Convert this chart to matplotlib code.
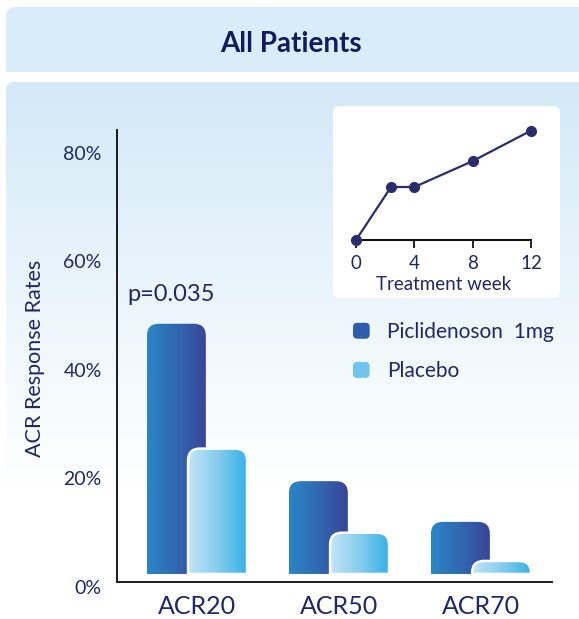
import numpy as np
import matplotlib
matplotlib.use('Agg')
import matplotlib.pyplot as plt
from matplotlib.path import Path
from matplotlib.patches import PathPatch, FancyBboxPatch, Patch
from matplotlib.colors import LinearSegmentedColormap
from matplotlib.legend_handler import HandlerPatch
from matplotlib.ticker import FuncFormatter

# ---------------- data ----------------
categories = ['ACR20', 'ACR50', 'ACR70']
piclidenoson = [48.5, 19.5, 12.0]
placebo = [25.5, 10.0, 4.8]
y_ticks = [0, 20, 40, 60, 80]
weeks = [0, 2.4, 4, 8, 12]
inset_acr20 = [0, 23.5, 23.5, 35, 48.5]
inset_ticks = [0, 4, 8, 12]
series_labels = ['Piclidenoson  1mg', 'Placebo']
title_text = 'All Patients'
p_text = 'p=0.035'

# ---------------- style ----------------
plt.rcParams['font.family'] = ['Lato', 'DejaVu Sans']
NAVY = '#1f2768'
W, H, DPI = 579, 619, 100
fig = plt.figure(figsize=(W / DPI, H / DPI), dpi=DPI)


def px_rect(l, t, r, b):
    return [l / W, 1 - b / H, (r - l) / W, (b - t) / H]


def top_left_round(l, t, r, b, rad):
    # pixel coords (y downwards); only the top-left corner is rounded
    verts = [(l, b), (l, t + rad), (l, t), (l + rad, t), (r, t), (r, b), (l, b)]
    codes = [Path.MOVETO, Path.LINETO, Path.CURVE3, Path.CURVE3, Path.LINETO,
             Path.LINETO, Path.CLOSEPOLY]
    return Path(verts, codes)


# background (pixel coordinates)
bg = fig.add_axes([0, 0, 1, 1], zorder=0)
bg.axis('off')

bg.add_patch(PathPatch(top_left_round(6, 7, W + 2, 72, 10), facecolor='#d8edf9',
                       edgecolor='none'))
bg.text(291, 44, title_text, ha='center', va='center', fontsize=20,
        fontweight='bold', color='#15195f')

panel = PathPatch(top_left_round(6, 82, W + 2, H + 2, 8), facecolor='none',
                  edgecolor='none')
bg.add_patch(panel)
panel_cmap = LinearSegmentedColormap.from_list(
    'panel', [(0, '#d3e9f7'), (0.45, '#eef7fc'), (0.75, '#ffffff'), (1, '#ffffff')])
grad = np.linspace(0, 1, 256).reshape(-1, 1)
im = bg.imshow(grad, cmap=panel_cmap, extent=(6, W + 2, H + 2, 82), aspect='auto',
               interpolation='bicubic', zorder=0)
im.set_clip_path(panel)

inset_box = FancyBboxPatch((333, 106), 227, 192, boxstyle='round,pad=0,rounding_size=7',
                           facecolor='white', edgecolor='none', zorder=1)
bg.add_patch(inset_box)
bg.text(35, 358, 'ACR Response Rates', rotation=90, ha='center', va='center',
        fontsize=15.5, color=NAVY)
bg.set_xlim(0, W)
bg.set_ylim(H, 0)

# ---------------- main axes ----------------
L, T, R, B = 117, 130, 552, 587
SPINE_LIFT_PX = 5
ax = fig.add_axes(px_rect(L, T, R, B), zorder=1)
ax.patch.set_alpha(0)
XLIM = (-0.563, 2.5)
YLIM = (0, 84.2)
ax.set_xlim(*XLIM)
ax.set_ylim(*YLIM)
sx = (R - L) / (XLIM[1] - XLIM[0])
sy = (B - T) / (YLIM[1] - YLIM[0])

for s in ['top', 'right']:
    ax.spines[s].set_visible(False)
for s in ['left', 'bottom']:
    ax.spines[s].set_color('#1a1a1a')
    ax.spines[s].set_linewidth(1.4)
ax.spines['bottom'].set_position(('outward', -SPINE_LIFT_PX * 72 / DPI))
ax.spines['left'].set_bounds(SPINE_LIFT_PX / sy, YLIM[1])

x = np.arange(len(categories))
ax.set_xticks(x)
ax.set_xticklabels(categories)
ax.set_yticks(y_ticks)
ax.yaxis.set_major_formatter(FuncFormatter(lambda v, p: f'{v:.0f}%'))
ax.tick_params(axis='y', length=0, pad=11, labelsize=14, labelcolor=NAVY)
ax.tick_params(axis='x', length=0, pad=9, labelsize=18, labelcolor=NAVY)

dark_cmap = LinearSegmentedColormap.from_list('dark', ['#2b86c6', '#3068b0', '#3a4598'])
light_cmap = LinearSegmentedColormap.from_list('light', ['#c4e6f7', '#86cdef', '#35b2e5'])

width = 0.415
offset = 0.145
gap = 2.4
radius_px = 12

dark_bars = ax.bar(x - offset, np.array(piclidenoson) - gap, width, bottom=gap, alpha=0)
light_bars = ax.bar(x + offset, np.array(placebo) - gap, width, bottom=gap, alpha=0)


def rounded_bar(rect, cmap, z, edge=None):
    x0, y0 = rect.get_x(), rect.get_y()
    x1, y1 = x0 + rect.get_width(), y0 + rect.get_height()
    rx = min(radius_px / sx, rect.get_width() / 2)
    ry = min(radius_px / sy, rect.get_height())
    verts = [(x0, y0), (x0, y1 - ry), (x0, y1), (x0 + rx, y1), (x1 - rx, y1),
             (x1, y1), (x1, y1 - ry), (x1, y0), (x0, y0)]
    codes = [Path.MOVETO, Path.LINETO, Path.CURVE3, Path.CURVE3, Path.LINETO,
             Path.CURVE3, Path.CURVE3, Path.LINETO, Path.CLOSEPOLY]
    path = Path(verts, codes)
    clip = PathPatch(path, facecolor='none', edgecolor='none', zorder=z)
    ax.add_patch(clip)
    g = np.linspace(0, 1, 256).reshape(1, -1)
    img = ax.imshow(g, cmap=cmap, extent=(x0, x1, y0, y1), aspect='auto',
                    interpolation='bicubic', zorder=z)
    img.set_clip_path(clip)
    if edge:
        ax.add_patch(PathPatch(path, facecolor='none', edgecolor=edge, lw=1.8,
                               zorder=z + 0.1))


for r in dark_bars:
    rounded_bar(r, dark_cmap, 2)
for r in light_bars:
    rounded_bar(r, light_cmap, 3, edge='white')

ax.set_xlim(*XLIM)
ax.set_ylim(*YLIM)

r0 = dark_bars[0]
ax.annotate(p_text, xy=(r0.get_x(), piclidenoson[0]), xytext=(-14, 21),
            textcoords='offset points', ha='left', va='center', fontsize=17,
            color=NAVY)


# legend
class RoundHandler(HandlerPatch):
    def create_artists(self, legend, orig_handle, xdescent, ydescent, width, height,
                       fontsize, trans):
        p = FancyBboxPatch((-xdescent, -ydescent), width, height,
                           boxstyle='round,pad=0,rounding_size=3',
                           facecolor=orig_handle.get_facecolor(), edgecolor='none',
                           transform=trans)
        return [p]


handles = [Patch(facecolor='#2d5cab'), Patch(facecolor='#6ec6ee')]
fig.legend(handles, series_labels, loc='upper left',
           bbox_to_anchor=(353 / W, 1 - 322 / H), frameon=False, fontsize=15,
           handlelength=0.8, handleheight=0.8, handletextpad=0.85,
           labelspacing=0.92, borderpad=0, borderaxespad=0,
           labelcolor=NAVY, handler_map={Patch: RoundHandler()})

# ---------------- inset ----------------
ia = fig.add_axes(px_rect(356, 125, 531, 240), zorder=2)
ia.patch.set_alpha(0)
ia.set_xlim(0, 12)
ia.set_ylim(0, 51)
for s in ['top', 'right', 'left']:
    ia.spines[s].set_visible(False)
ia.spines['bottom'].set_color('#111111')
ia.spines['bottom'].set_linewidth(1.5)
ia.plot(weeks, inset_acr20, color='#2a2c6c', lw=1.6, marker='o', ms=7,
        clip_on=False, zorder=5)
ia.set_xticks(inset_ticks)
ia.set_yticks([])
ia.tick_params(axis='x', direction='out', length=6, width=1.3, color='#111111',
               labelsize=13.5, labelcolor=NAVY, pad=5)
ia.set_xlabel('Treatment week', fontsize=13.5, color=NAVY, labelpad=3)

fig.savefig('out.png', dpi=DPI)
